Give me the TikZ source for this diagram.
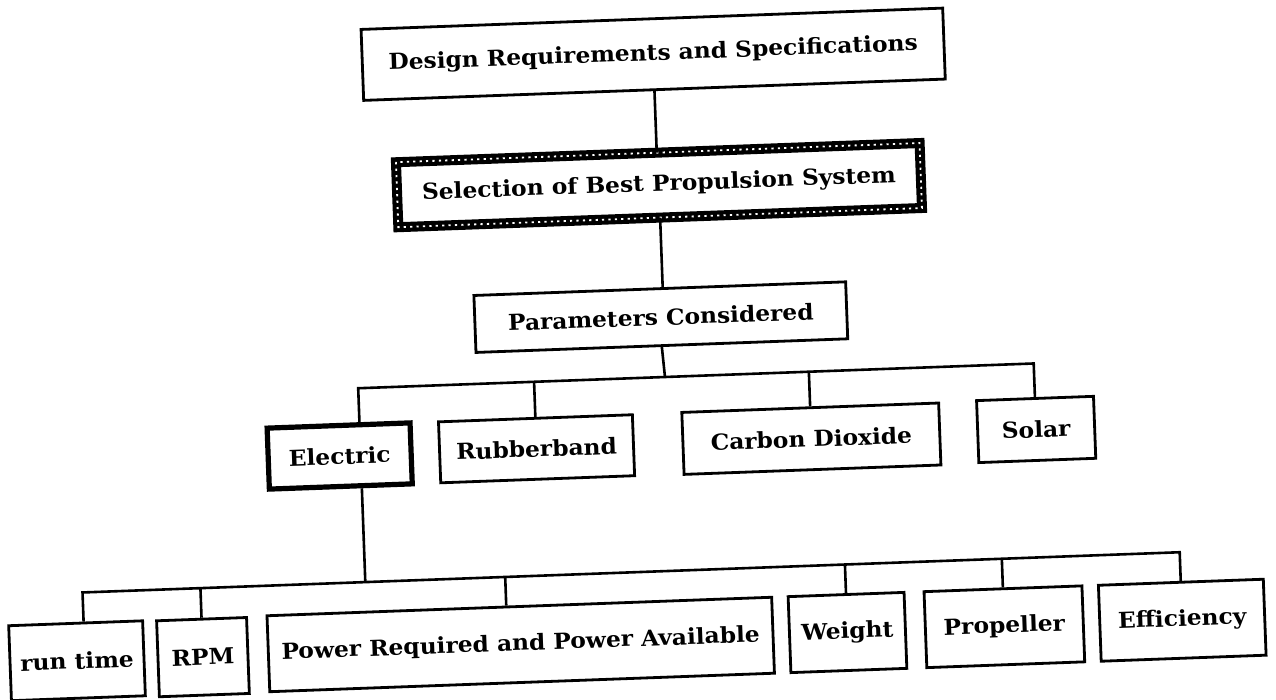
\documentclass[tikz,border=0pt]{standalone}
\usepackage{fontspec}
\setmainfont{DejaVu Serif}[FakeStretch=1.06]
\begin{document}
\begin{tikzpicture}[x=0.5pt,y=-0.5pt,
  every node/.style={font=\fontsize{11}{13}\selectfont\bfseries},
  box/.style={draw=black,line width=1.4pt,rectangle,inner sep=0pt,fill=white},
  conn/.style={draw=black,line width=1.3pt},
]
\useasboundingbox[fill=white] (0,0) rectangle (1276,700);
\begin{scope}[rotate around={2.1:(638,350)},transform shape]
  % nodes
  \node[box,minimum width=291pt,minimum height=35.5pt] (top) at (664,55) {Design Requirements and Specifications};
  \node[box,line width=5pt,outer sep=0pt,minimum width=262pt,minimum height=32.5pt] (sel) at (665,186) {Selection of Best Propulsion System};
  \node[box,minimum width=186pt,minimum height=28.5pt] (param) at (662,318) {Parameters Considered};
  \node[box,line width=2.6pt,minimum width=71.5pt,minimum height=30.5pt] (elec) at (336,445) {Electric};
  \node[box,minimum width=97pt,minimum height=30.5pt] (rub) at (533,445) {Rubberband};
  \node[box,minimum width=128.5pt,minimum height=31pt] (co2) at (808,445) {Carbon Dioxide};
  \node[box,minimum width=58.5pt,minimum height=31pt] (solar) at (1033,444) {Solar};
  \node[box,minimum width=67pt,minimum height=37.5pt] (runt) at (66,640) {run time};
  \node[box,minimum width=45pt,minimum height=38pt] (rpm) at (192,641) {RPM};
  \node[box,minimum width=252.5pt,minimum height=38pt] (power) at (510,640) {Power Required and Power Available};
  \node[box,minimum width=58pt,minimum height=38pt] (weight) at (837,640) {Weight};
  \node[box,minimum width=79pt,minimum height=38pt] (prop) at (994,640) {Propeller};
  \node[box,minimum width=82.5pt,minimum height=38pt] (eff) at (1172,640) {Efficiency};
  % chain-like border of the selection box
  \draw[white,line width=0.9pt,dash pattern=on 1.1pt off 2.1pt]
    (sel.north west) rectangle (sel.south east);
  % helper coordinates
  \coordinate (b2) at (664,378);
  \coordinate (b3) at (357,572);
  \coordinate (ex) at (357,0);
  \coordinate (rtx) at (74,0);
  \coordinate (pwx) at (497,0);
  % connectors
  \draw[conn] (top.south) -- (top.south |- sel.north);
  \draw[conn] (sel.south) -- (sel.south |- param.north);
  \draw[conn] (param.south) -- (b2);
  \draw[conn] (ex |- elec.north) |- (b2) -| (solar.north);
  \draw[conn] (rub.north) -- (rub.north |- b2);
  \draw[conn] (co2.north) -- (co2.north |- b2);
  \draw[conn] (ex |- elec.south) -- (b3);
  \draw[conn] (rtx |- runt.north) |- (b3) -| (eff.north);
  \draw[conn] (rpm.north) -- (rpm.north |- b3);
  \draw[conn] (pwx |- power.north) -- (pwx |- b3);
  \draw[conn] (weight.north) -- (weight.north |- b3);
  \draw[conn] (prop.north) -- (prop.north |- b3);
\end{scope}
\end{tikzpicture}
\end{document}
